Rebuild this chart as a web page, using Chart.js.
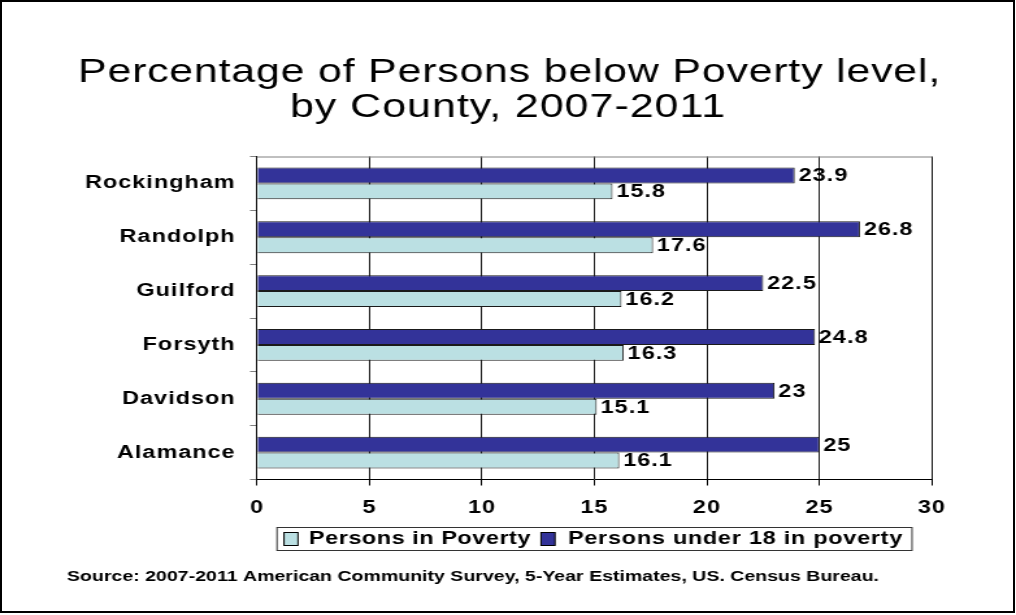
<!DOCTYPE html>
<html>
<head>
<meta charset="utf-8">
<script src="https://cdn.jsdelivr.net/npm/chart.js@4.4.0/dist/chart.umd.min.js"></script>
<style>
  html, body { margin: 0; padding: 0; background: #fff; overflow: hidden; }
  #frame { position: absolute; left: 0; top: 0; width: 1015px; height: 613px; border: 2px solid #000; box-sizing: border-box; pointer-events: none; z-index: 2; }
  #wrap { position: absolute; left: 0; top: 0; width: 782px; height: 615px; transform: scaleX(1.29923); transform-origin: 0 0; }
  canvas { display: block; }
</style>
</head>
<body>
<div id="wrap"><canvas id="c" width="782" height="615"></canvas></div>
<div id="frame"></div>
<script>
// ---- data ----
const counties = ['Rockingham', 'Randolph', 'Guilford', 'Forsyth', 'Davidson', 'Alamance'];
const under18 = [23.9, 26.8, 22.5, 24.8, 23, 25];
const poverty = [15.8, 17.6, 16.2, 16.3, 15.1, 16.1];
const xTicks = [0, 5, 10, 15, 20, 25, 30];
const seriesNames = ['Persons in Poverty', 'Persons under 18 in poverty'];
const titleLines = ['Percentage of Persons below Poverty level,', 'by County, 2007-2011'];
const sourceText = 'Source: 2007-2011 American Community Survey, 5-Year Estimates, US. Census Bureau.';

// ---- layout helpers ----
const SX = 1016 / 782;
const px = v => v / SX;
const FONT = "'Liberation Sans', Arial, sans-serif";
const TICK_SPACING = '0.8px';

function drawFit(ctx, text, font, x, y, align, target) {
  ctx.save();
  ctx.font = font;
  ctx.letterSpacing = '0px';
  const w = ctx.measureText(text).width;
  const ls = (target - w) / text.length;
  ctx.letterSpacing = ls + 'px';
  ctx.textAlign = 'left';
  ctx.fillStyle = '#000';
  const x0 = align === 'center' ? x - target / 2 : x;
  ctx.fillText(text, x0, y);
  ctx.restore();
}

const decor = {
  id: 'decor',
  beforeUpdate(chart) { chart.ctx.letterSpacing = TICK_SPACING; },
  beforeDraw(chart) {
    const ctx = chart.ctx;
    ctx.letterSpacing = TICK_SPACING;
    ctx.save();
    ctx.fillStyle = '#fff';
    ctx.fillRect(0, 0, chart.width, chart.height);
    ctx.restore();
  },
  afterDatasetsDraw(chart) {
    const ctx = chart.ctx;
    const a = chart.chartArea;
    ctx.save();
    ctx.strokeStyle = '#808080';
    ctx.lineWidth = 1;
    ctx.beginPath();
    ctx.moveTo(a.left, a.top + 0.5);
    ctx.lineTo(a.right, a.top + 0.5);
    ctx.stroke();
    ctx.restore();
    ctx.save();
    ctx.font = 'bold 18px ' + FONT;
    ctx.letterSpacing = TICK_SPACING;
    ctx.fillStyle = '#000';
    ctx.textAlign = 'left';
    ctx.textBaseline = 'middle';
    chart.data.datasets.forEach((ds, di) => {
      chart.getDatasetMeta(di).data.forEach((bar, i) => {
        ctx.fillText(String(ds.data[i]), bar.x + 3, bar.y + 1);
      });
    });
    ctx.restore();
  },
  afterDraw(chart) {
    const ctx = chart.ctx;
    drawFit(ctx, titleLines[0], '33px ' + FONT, px(509.5), 82, 'center', 863 / SX);
    drawFit(ctx, titleLines[1], '33px ' + FONT, px(508), 117, 'center', 436 / SX);
    ctx.save();
    ctx.strokeStyle = '#333';
    ctx.lineWidth = 1;
    ctx.strokeRect(px(277), 527.5, px(912) - px(277), 23);
    const dsets = chart.data.datasets.slice().reverse();
    const items = [
      { sw: 284, tx: 309, tw: 222 },
      { sw: 541, tx: 568, tw: 335 }
    ];
    items.forEach((it, k) => {
      const ds = dsets[k];
      ctx.fillStyle = ds.backgroundColor;
      ctx.fillRect(px(it.sw), 532, 14 / SX, 13);
      ctx.strokeStyle = '#000';
      ctx.strokeRect(px(it.sw), 532.5, 14 / SX, 13);
      ctx.textBaseline = 'middle';
      drawFit(ctx, ds.label, 'bold 18px ' + FONT, px(it.tx), 539.5, 'left', it.tw / SX);
    });
    ctx.restore();
    ctx.save();
    ctx.textBaseline = 'alphabetic';
    drawFit(ctx, sourceText, 'bold 15px ' + FONT, px(67), 581, 'left', 812 / SX);
    ctx.restore();
  }
};

const ctx = document.getElementById('c').getContext('2d');
new Chart(ctx, {
  type: 'bar',
  data: {
    labels: counties,
    datasets: [
      { label: seriesNames[1], data: under18, backgroundColor: '#333399', borderColor: '#1a1a1a', borderWidth: 1, categoryPercentage: 0.59, barPercentage: 1 },
      { label: seriesNames[0], data: poverty, backgroundColor: '#BBE0E3', borderColor: '#1a1a1a', borderWidth: 1, categoryPercentage: 0.59, barPercentage: 1 }
    ]
  },
  options: {
    indexAxis: 'y',
    responsive: false,
    animation: false,
    devicePixelRatio: 1,
    layout: { padding: { top: 156.5, right: 782 - px(932), bottom: 0, left: 0 } },
    plugins: { legend: { display: false }, title: { display: false }, tooltip: { enabled: false } },
    scales: {
      x: {
        min: 0, max: 30,
        afterBuildTicks: s => { s.ticks = xTicks.map(v => ({ value: v })); },
        ticks: { color: '#000', font: { family: FONT, size: 18, weight: 'bold' }, padding: 12, maxRotation: 0 },
        grid: { color: '#1a1a1a', lineWidth: 1, tickLength: 6, tickColor: '#000' },
        border: { color: '#000', width: 1 },
        afterFit: s => { s.height = 615 - 479.5; }
      },
      y: {
        ticks: { color: '#000', font: { family: FONT, size: 18, weight: 'bold' }, padding: 11 },
        grid: { drawOnChartArea: false, tickLength: 5.4, tickColor: '#808080', offset: true },
        border: { color: '#000', width: 1 },
        afterFit: s => { s.width = px(257); }
      }
    }
  },
  plugins: [decor]
});
</script>
</body>
</html>
